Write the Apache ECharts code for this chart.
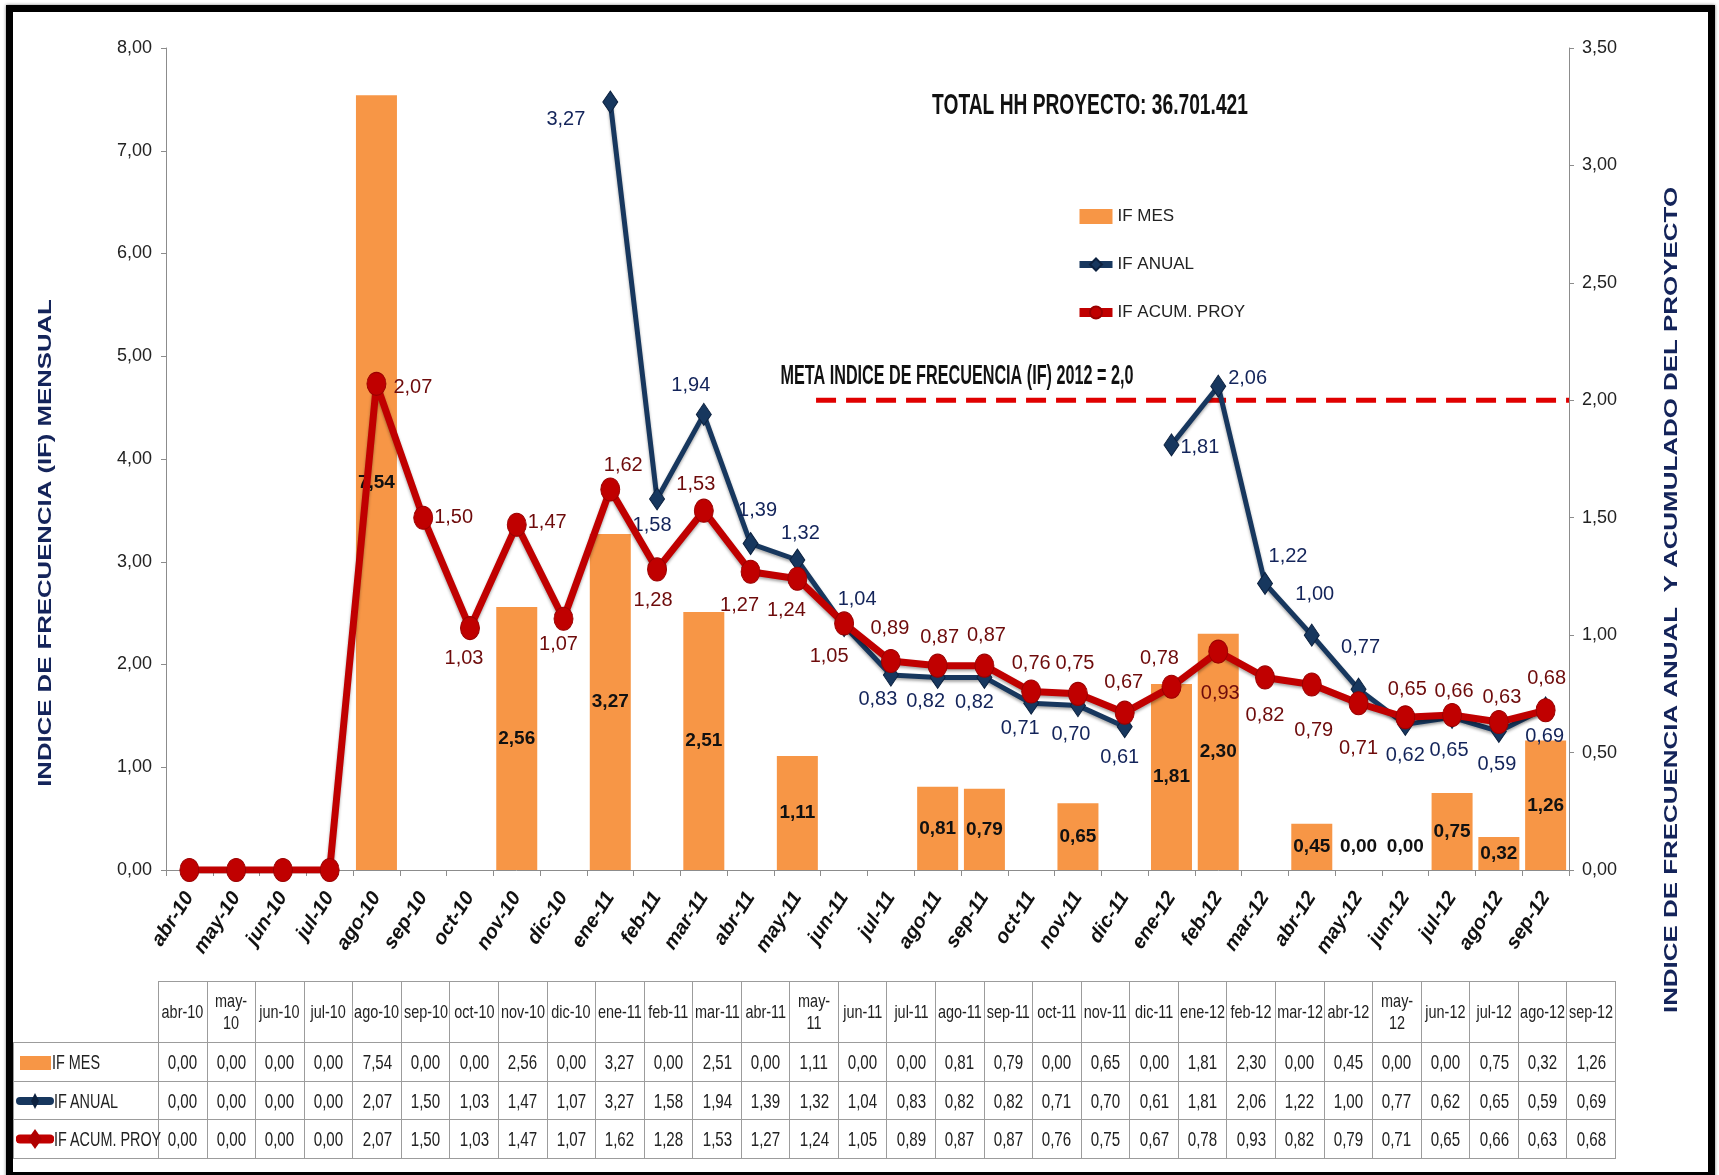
<!DOCTYPE html>
<html>
  <head>
    <meta charset="utf-8" />
    <title>Indice de frecuencia</title>
    <script src="https://cdn.jsdelivr.net/npm/echarts@6.0.0/dist/echarts.min.js"></script>
    <style>
      * {
        margin: 0;
        padding: 0;
        box-sizing: border-box;
      }
      body {
        width: 1719px;
        height: 1175px;
        background: #fff;
        position: relative;
        overflow: hidden;
      }
      #main {
        position: absolute;
        left: 0;
        top: 0;
        width: 1719px;
        height: 1175px;
      }
      #marco {
        position: absolute;
        left: 6px;
        top: 5px;
        width: 1709px;
        height: 1174px;
        border: 7px solid #000;
        box-shadow: 0 0 3px rgba(0, 0, 0, 0.5);
        pointer-events: none;
      }
      #tabla {
        position: absolute;
        left: 13px;
        top: 981px;
        width: 1602px;
        border-collapse: collapse;
        table-layout: fixed;
        font-family: "Liberation Sans", Arial, sans-serif;
        font-size: 21px;
        color: #222;
      }
      #tabla td {
        border: 1px solid #9c9c9c;
        text-align: center;
        padding: 0;
        white-space: nowrap;
        overflow: visible;
      }
      #tabla td span.n {
        display: inline-block;
        margin: 0 -20px;
        transform: scaleX(0.72);
      }
      #tabla tr.cab td {
        height: 61px;
        font-size: 19px;
        line-height: 1.15;
      }
      #tabla tr.cab td span.n {
        transform: scaleX(0.76);
      }
      #tabla tr.cab td.vacio {
        border-top: none;
        border-left: none;
      }
      #tabla td.serie {
        text-align: left;
        padding-left: 2px;
        font-size: 20px;
      }
      #tabla td.serie svg {
        vertical-align: middle;
      }
      #tabla td.serie span.n {
        margin: 0;
        transform: scaleX(0.72);
        transform-origin: left center;
        vertical-align: middle;
      }
    </style>
  </head>
  <body>
    <div id="main"></div>
    <table id="tabla"></table>
    <div id="marco"></div>
    <script type="text/javascript">
      const meses = [
        "abr-10", "may-10", "jun-10", "jul-10", "ago-10", "sep-10", "oct-10", "nov-10", "dic-10",
        "ene-11", "feb-11", "mar-11", "abr-11", "may-11", "jun-11", "jul-11", "ago-11", "sep-11",
        "oct-11", "nov-11", "dic-11", "ene-12", "feb-12", "mar-12", "abr-12", "may-12", "jun-12",
        "jul-12", "ago-12", "sep-12",
      ];
      const ifMes = [
        0.0, 0.0, 0.0, 0.0, 7.54, 0.0, 0.0, 2.56, 0.0, 3.27, 0.0, 2.51, 0.0, 1.11, 0.0, 0.0, 0.81,
        0.79, 0.0, 0.65, 0.0, 1.81, 2.3, 0.0, 0.45, 0.0, 0.0, 0.75, 0.32, 1.26,
      ];
      const ifAnual = [
        0.0, 0.0, 0.0, 0.0, 2.07, 1.5, 1.03, 1.47, 1.07, 3.27, 1.58, 1.94, 1.39, 1.32, 1.04, 0.83,
        0.82, 0.82, 0.71, 0.7, 0.61, 1.81, 2.06, 1.22, 1.0, 0.77, 0.62, 0.65, 0.59, 0.69,
      ];
      const ifAcum = [
        0.0, 0.0, 0.0, 0.0, 2.07, 1.5, 1.03, 1.47, 1.07, 1.62, 1.28, 1.53, 1.27, 1.24, 1.05, 0.89,
        0.87, 0.87, 0.76, 0.75, 0.67, 0.78, 0.93, 0.82, 0.79, 0.71, 0.65, 0.66, 0.63, 0.68,
      ];
      // tramos graficados del IF anual (la linea se corta entre dic-11 y ene-12)
      const tramosAnual = [
        ["ene-11", "dic-11"],
        ["ene-12", "sep-12"],
      ];
      // meses con IF mes 0,00 que si llevan etiqueta en el grafico
      const cerosRotulados = ["may-12", "jun-12"];
      const metaIF = 2.0;
      const metaDesde = 13.9; // en unidades de mes sobre el eje
      const totalHH = "36.701.421";

      // posicion de etiquetas: [posicion, distancia, [dx, dy]]
      const etqAnual = [
        null, null, null, null, null, null, null, null, null,
        ["left", 17, [0, 17]], ["bottom", 5, [-5, 0]], ["top", 7, [-13, 0]], ["top", 11, [7, 0]],
        ["top", 5, [3, 0]], ["top", 5, [13, 0]], ["bottom", 3, [-13, 0]], ["bottom", 2, [-12, 0]],
        ["bottom", 3, [-10, 0]], ["bottom", 4, [-11, 0]], ["bottom", 7, [-7, 0]], ["bottom", 9, [-5, 0]],
        ["right", 1, [0, 3]], ["right", 2, [0, -8]], ["top", 5, [23, 0]], ["top", 19, [3, 0]],
        ["top", 20, [2, 0]], ["bottom", 9, [0, 0]], ["bottom", 12, [-3, 0]], ["bottom", 11, [-2, 0]],
        ["bottom", 7, [-1, 0]],
      ];
      const etqAcum = [
        null, null, null, null,
        ["right", 7, [0, 4]], ["right", 1, [0, 0]], ["bottom", 8, [-6, 0]], ["right", 1, [0, -2]],
        ["bottom", 4, [-5, 0]], ["top", 2, [13, 0]], ["bottom", 9, [-4, 0]], ["top", 4, [-8, 0]],
        ["bottom", 12, [-11, 0]], ["bottom", 10, [-11, 0]], ["bottom", 11, [-15, 0]], ["top", 10, [-1, 0]],
        ["top", 6, [2, 0]], ["top", 8, [2, 0]], ["top", 6, [0, 0]], ["top", 8, [-3, 0]],
        ["top", 8, [-1, 0]], ["top", 6, [-12, 0]], ["bottom", 20, [2, 0]], ["bottom", 16, [0, 0]],
        ["bottom", 24, [2, 0]], ["bottom", 23, [0, 0]], ["top", 6, [2, 0]], ["top", 1, [2, 0]],
        ["top", 3, [3, 0]], ["top", 10, [1, 0]],
      ];

      const FONT = '"Liberation Sans", Arial, sans-serif';
      const NARANJA = "#F79646";
      const AZUL = "#17375E";
      const ROJO = "#C00000";

      function fmt(v) {
        return Number(v).toFixed(2).replace(".", ",");
      }

      function etiqueta(e, color) {
        if (!e) return { show: false };
        return {
          show: true,
          position: e[0],
          distance: e[1],
          offset: e[2],
          color: color,
          fontSize: 20,
          formatter: (p) => fmt(p.value),
        };
      }

      // ---- tabla de datos ----
      const iconos = {
        mes: '<svg width="36" height="18"><rect x="4" y="2" width="31" height="14" fill="' + NARANJA + '"/></svg>',
        anual:
          '<svg width="38" height="22"><line x1="4" y1="11" x2="34" y2="11" stroke="' + AZUL +
          '" stroke-width="8" stroke-linecap="round"/><path d="M19 3 L23 11 L19 19 L15 11Z" fill="#0c213f"/></svg>',
        acum:
          '<svg width="38" height="24"><line x1="4" y1="12" x2="34" y2="12" stroke="' + ROJO +
          '" stroke-width="9" stroke-linecap="round"/><path d="M19 2 L26 12 L19 22 L12 12Z" fill="#b00000"/></svg>',
      };
      const filas = [
        ["IF MES", ifMes, iconos.mes, 39],
        ["IF ANUAL", ifAnual, iconos.anual, 38],
        ["IF ACUM. PROY", ifAcum, iconos.acum, 39],
      ];
      let html = '<colgroup><col style="width:145px">';
      meses.forEach(() => (html += '<col style="width:48.57px">'));
      html += "</colgroup>";
      html += '<tr class="cab"><td class="vacio"></td>';
      meses.forEach((m) => {
        html += '<td><span class="n">' + (m.startsWith("may") ? m.replace("-", "-<br>") : m) + "</span></td>";
      });
      html += "</tr>";
      filas.forEach((f) => {
        html += '<tr style="height:' + f[3] + 'px"><td class="serie">' + f[2] + '<span class="n">' + f[0] + "</span></td>";
        f[1].forEach((v) => (html += '<td><span class="n">' + fmt(v) + "</span></td>"));
        html += "</tr>";
      });
      document.getElementById("tabla").innerHTML = html;

      // ---- grafico ----
      var myChart = echarts.init(document.getElementById("main"));

      const serieAnual = tramosAnual.map((t) => {
        const a = meses.indexOf(t[0]);
        const b = meses.indexOf(t[1]);
        return {
          name: "IF ANUAL",
          type: "line",
          yAxisIndex: 1,
          z: 3,
          symbol: "diamond",
          symbolSize: [15, 22],
          itemStyle: { color: AZUL, borderColor: "#0c213f", borderWidth: 1 },
          lineStyle: {
            color: AZUL,
            width: 5,
            shadowColor: "rgba(0,0,0,0.35)",
            shadowBlur: 3,
            shadowOffsetY: 2,
          },
          data: ifAnual.map((v, i) =>
            i >= a && i <= b ? { value: v, label: etiqueta(etqAnual[i], "#13245A") } : null
          ),
        };
      });

      var option = {
        animation: false,
        textStyle: { fontFamily: FONT },
        grid: { left: 166, right: 150, top: 48, bottom: 305 },
        legend: {
          orient: "vertical",
          left: 1070,
          top: 203,
          itemWidth: 33,
          itemHeight: 15,
          itemGap: 31,
          textStyle: { fontFamily: FONT, fontSize: 17, color: "#222" },
          data: [
            { name: "IF MES", icon: "rect" },
            { name: "IF ANUAL", lineStyle: { width: 7 } },
            { name: "IF ACUM. PROY", lineStyle: { width: 9 } },
          ],
        },
        xAxis: [
          {
            type: "category",
            data: meses,
            axisLine: { lineStyle: { color: "#8c8c8c" } },
            axisTick: { show: true, length: 6, lineStyle: { color: "#8c8c8c" } },
            axisLabel: {
              interval: 0,
              rotate: 57,
              margin: 24,
              fontFamily: FONT,
              fontWeight: "bold",
              fontStyle: "italic",
              fontSize: 20,
              color: "#111",
            },
          },
          { type: "value", min: 0, max: meses.length, show: false },
        ],
        yAxis: [
          {
            type: "value",
            min: 0,
            max: 8,
            interval: 1,
            axisLine: { show: true, lineStyle: { color: "#8c8c8c" } },
            axisTick: { show: true, length: 5, lineStyle: { color: "#8c8c8c" } },
            splitLine: { show: false },
            axisLabel: { formatter: fmt, fontSize: 18, color: "#222", margin: 14 },
          },
          {
            type: "value",
            position: "right",
            min: 0,
            max: 3.5,
            interval: 0.5,
            axisLine: { show: true, lineStyle: { color: "#8c8c8c" } },
            axisTick: { show: true, length: 5, lineStyle: { color: "#8c8c8c" } },
            splitLine: { show: false },
            axisLabel: { formatter: fmt, fontSize: 18, color: "#222", margin: 13 },
          },
        ],
        graphic: [
          {
            type: "text",
            x: 1090,
            y: 106,
            scaleX: 0.64,
            style: {
              text: "TOTAL HH PROYECTO: " + totalHH,
              font: "bold 30px " + FONT,
              fill: "#111",
              align: "center",
              verticalAlign: "middle",
            },
          },
          {
            type: "text",
            x: 957,
            y: 377,
            scaleX: 0.6,
            style: {
              text: "META INDICE DE FRECUENCIA (IF) 2012 = " + String(metaIF.toFixed(1)).replace(".", ","),
              font: "bold 27px " + FONT,
              fill: "#111",
              align: "center",
              verticalAlign: "middle",
            },
          },
          {
            type: "text",
            x: 46,
            y: 543,
            rotation: Math.PI / 2,
            scaleX: 1.43,
            style: {
              text: "INDICE DE FRECUENCIA (IF) MENSUAL",
              font: "bold 18px " + FONT,
              fill: "#14245A",
              align: "center",
              verticalAlign: "middle",
            },
          },
          {
            type: "text",
            x: 1672,
            y: 600,
            rotation: Math.PI / 2,
            scaleX: 1.44,
            style: {
              text: "INDICE DE FRECUENCIA ANUAL  Y ACUMULADO DEL PROYECTO",
              font: "bold 18px " + FONT,
              fill: "#14245A",
              align: "center",
              verticalAlign: "middle",
            },
          },
        ],
        series: [
          {
            name: "IF MES",
            type: "bar",
            barWidth: 41,
            z: 2,
            itemStyle: { color: NARANJA },
            label: {
              show: true,
              position: "inside",
              fontWeight: "bold",
              fontSize: 19,
              color: "#111",
              formatter: (p) => fmt(p.value),
            },
            data: ifMes.map((v, i) => {
              if (v !== 0) return v;
              if (cerosRotulados.indexOf(meses[i]) >= 0)
                return { value: v, label: { show: true, position: "top", distance: 14 } };
              return { value: v, label: { show: false } };
            }),
          },
          ...serieAnual,
          {
            name: "IF ACUM. PROY",
            type: "line",
            yAxisIndex: 1,
            z: 4,
            symbol: "circle",
            symbolSize: [19, 23],
            itemStyle: { color: ROJO, borderColor: "#9a0000", borderWidth: 1 },
            lineStyle: {
              color: ROJO,
              width: 7,
              shadowColor: "rgba(0,0,0,0.35)",
              shadowBlur: 3,
              shadowOffsetY: 2,
            },
            data: ifAcum.map((v, i) => ({ value: v, label: etiqueta(etqAcum[i], "#6E0B0B") })),
          },
          {
            name: "Meta",
            type: "line",
            xAxisIndex: 1,
            yAxisIndex: 1,
            z: 1,
            silent: true,
            symbol: "none",
            lineStyle: { color: "#E00000", width: 5, type: [20, 10] },
            data: [
              [metaDesde, metaIF],
              [meses.length, metaIF],
            ],
          },
        ],
      };

      myChart.setOption(option);
      window.addEventListener("resize", function () {
        myChart.resize();
      });
    </script>
  </body>
</html>
